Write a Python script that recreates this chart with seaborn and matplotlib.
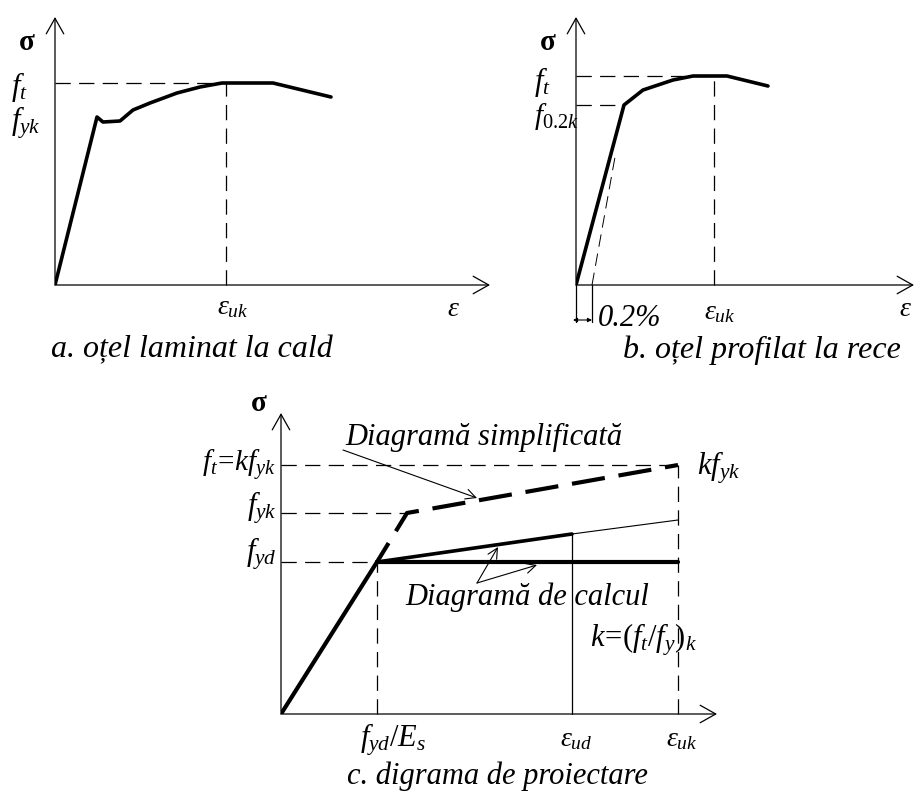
import matplotlib
matplotlib.use("Agg")
import matplotlib.pyplot as plt
import seaborn as sns

# ---------------- data (arbitrary units) ----------------
# a. hot-rolled steel
a_eps = [0, 4.2, 4.8, 6.5, 7.8, 9.5, 12.2, 14.5, 16.7, 21.8, 27.6]
a_sig = [0, 16.8, 16.3, 16.4, 17.5, 18.2, 19.2, 19.8, 20.2, 20.2, 18.8]
a_ft = 20.2
a_euk = 17.1

# b. cold-formed steel
b_eps = [0, 4.8, 6.7, 9.7, 11.7, 15.1, 19.2]
b_sig = [0, 18.0, 19.5, 20.5, 20.9, 20.9, 19.9]
b_ft = 20.9
b_f02 = 18.0
b_euk = 13.8
b_off_eps = [1.6, 3.9]
b_off_sig = [0, 12.8]

# c. design diagram
c_eyd = 9.6      # f_yd / E_s
c_eud = 29.1
c_euk = 39.7
c_fyd = 15.2
c_fyk = 20.1
c_kfyk = 24.9
c_fyk_eps = 12.6
c_calc_ud = 18.0
c_calc_uk = 19.4

# ---------------- style ----------------
sns.set_theme(style="white")
plt.rcParams["font.family"] = ["Liberation Serif", "DejaVu Serif"]
plt.rcParams["text.color"] = "black"
plt.rcParams["mathtext.fontset"] = "custom"
plt.rcParams["mathtext.it"] = "Liberation Serif:italic"
plt.rcParams["mathtext.rm"] = "Liberation Serif"
plt.rcParams["mathtext.cal"] = "Liberation Serif:italic"
plt.rcParams["lines.scale_dashes"] = False

W, H = 916, 794
fig = plt.figure(figsize=(W / 100, H / 100), dpi=100)
fig.patch.set_facecolor("white")

THICK = 2.6
THIN = 0.9
DASH = (0, (11, 6))
K = "black"


def make_ax(x0, y0, x1, y1, xmax, ymax):
    ax = fig.add_axes([x0 / W, 1 - y0 / H, (x1 - x0) / W, (y0 - y1) / H])
    ax.set_xlim(0, xmax)
    ax.set_ylim(0, ymax)
    ax.set_axis_off()
    return ax


def axis_arrows(ax, xmax, ymax):
    kw = dict(arrowstyle="->,head_length=0.8,head_width=0.45", lw=THIN,
              color=K, shrinkA=0, shrinkB=0, mutation_scale=14)
    ax.annotate("", xy=(xmax, 0), xytext=(0, 0), arrowprops=kw, annotation_clip=False)
    ax.annotate("", xy=(0, ymax), xytext=(0, 0), arrowprops=kw, annotation_clip=False)


def curve(ax, x, y, lw=THICK, **kw):
    sns.lineplot(x=x, y=y, ax=ax, sort=False, estimator=None, color=K, lw=lw,
                 solid_capstyle="round", **kw)


def guide(ax, x, y, ls=DASH, lw=THIN):
    ax.plot(x, y, color=K, lw=lw, ls=ls, clip_on=False)


def txt(ax, x, y, s, size=22, ha="center", va="center", **kw):
    ax.text(x, y, s, fontsize=size, ha=ha, va=va, color=K, clip_on=False, **kw)


# ---------------- panel a ----------------
axa = make_ax(55, 285, 490, 17, 43.5, 26.8)
axis_arrows(axa, 43.5, 26.8)
guide(axa, [0, a_euk], [a_ft, a_ft])
guide(axa, [a_euk, a_euk], [0, a_ft])
curve(axa, a_eps, a_sig)
txt(axa, -2.8, 24.2, "σ", size=21, weight="bold")
txt(axa, -4.4, 19.8, r"$f_t$", ha="left")
txt(axa, -4.4, 16.2, r"$f_{yk}$", ha="left")
txt(axa, 17.8, -2.3, r"$\varepsilon_{uk}$", size=20)
txt(axa, 39.8, -2.5, r"$\varepsilon$", size=20)

# ---------------- panel b ----------------
axb = make_ax(576, 285, 914, 17, 33.8, 26.8)
axis_arrows(axb, 33.8, 26.8)
guide(axb, [0, b_euk], [b_ft, b_ft])
guide(axb, [0, b_eps[1]], [b_f02, b_f02])
guide(axb, [b_euk, b_euk], [0, b_ft])
guide(axb, b_off_eps, b_off_sig, ls=(0, (9, 5)), lw=0.7)
curve(axb, b_eps, b_sig)
guide(axb, [0, 0], [0, -3.7], ls="-")
guide(axb, [b_off_eps[0], b_off_eps[0]], [0, -3.7], ls="-")
axb.annotate("", xy=(b_off_eps[0], -3.5), xytext=(-0.3, -3.5),
             arrowprops=dict(arrowstyle="<|-|>,head_length=0.3,head_width=0.15",
                             lw=0.8, color=K, shrinkA=0, shrinkB=0, mutation_scale=8),
             annotation_clip=False)
txt(axb, -2.8, 24.2, "σ", size=21, weight="bold")
txt(axb, -4.2, 20.3, r"$f_t$", ha="left")
txt(axb, -4.2, 16.9, r"$f_{0.2k}$", size=21, ha="left")
txt(axb, 14.4, -2.8, r"$\varepsilon_{uk}$", size=20)
txt(axb, 32.9, -2.5, r"$\varepsilon$", size=20)
txt(axb, 2.2, -3.3, "0.2%", size=22, ha="left", style="italic")

# ---------------- panel c ----------------
axc = make_ax(281, 714, 717, 413, 43.6, 30.1)
axis_arrows(axc, 43.6, 30.1)
guide(axc, [0, c_euk], [c_kfyk, c_kfyk])
guide(axc, [0, c_fyk_eps], [c_fyk, c_fyk])
guide(axc, [0, c_eyd], [c_fyd, c_fyd])
guide(axc, [c_eyd, c_eyd], [0, c_fyd])
guide(axc, [c_euk, c_euk], [0, c_kfyk])
guide(axc, [c_eud, c_eud], [0, c_calc_ud], ls="-")
guide(axc, [c_eud, c_euk], [c_calc_ud, c_calc_uk], ls="-", lw=0.8)
curve(axc, [0, c_eyd], [0, c_fyd], lw=3.0)
curve(axc, [c_eyd, c_euk], [c_fyd, c_fyd], lw=3.0)
curve(axc, [c_eyd, c_eud], [c_fyd, c_calc_ud], lw=2.6)
curve(axc, [c_eyd, c_fyk_eps, c_euk], [c_fyd, c_fyk, c_kfyk], lw=3.0,
      linestyle=(8, (24, 10)))

txt(axc, -2.2, 31.1, "σ", size=21, weight="bold")
txt(axc, -0.5, 24.9, r"$f_t\!=\!kf_{yk}$", size=21, ha="right")
txt(axc, -0.4, 20.6, r"$f_{yk}$", ha="right")
txt(axc, -0.4, 16.0, r"$f_{yd}$", ha="right")
txt(axc, 41.6, 24.6, r"$kf_{yk}$", ha="left")
txt(axc, 6.4, 27.7, "Diagramă simplificată", size=22, ha="left", style="italic")
txt(axc, 12.4, 11.7, "Diagramă de calcul", size=22, ha="left", style="italic")
txt(axc, 30.9, 7.4, r"$k\!=\!(f_t/f_y)_k$", ha="left")
txt(axc, 7.9, -2.6, r"$f_{yd}/E_s$", ha="left")
txt(axc, 29.5, -2.6, r"$\varepsilon_{ud}$", size=20)
txt(axc, 40.1, -2.6, r"$\varepsilon_{uk}$", size=20)

akw = dict(arrowstyle="->,head_length=0.6,head_width=0.3", lw=0.8, color=K,
           shrinkA=0, shrinkB=0, mutation_scale=12)
axc.annotate("", xy=(19.6, 21.6), xytext=(6.2, 26.4), arrowprops=akw, annotation_clip=False)
axc.annotate("", xy=(21.7, 16.7), xytext=(19.6, 13.1), arrowprops=akw, annotation_clip=False)
axc.annotate("", xy=(25.6, 14.9), xytext=(19.6, 13.1), arrowprops=akw, annotation_clip=False)

# ---------------- captions ----------------
fig.text(192 / W, 1 - 350 / H, "a. oțel laminat la cald", fontsize=23, style="italic",
         ha="center", va="center", color=K)
fig.text(762 / W, 1 - 350 / H, "b. oțel profilat la rece", fontsize=23, style="italic",
         ha="center", va="center", color=K)
fig.text(497 / W, 1 - 784 / H, "c. digrama de proiectare", fontsize=22, style="italic",
         ha="center", va="baseline", color=K)

fig.savefig("out.png", dpi=100, facecolor="white")
